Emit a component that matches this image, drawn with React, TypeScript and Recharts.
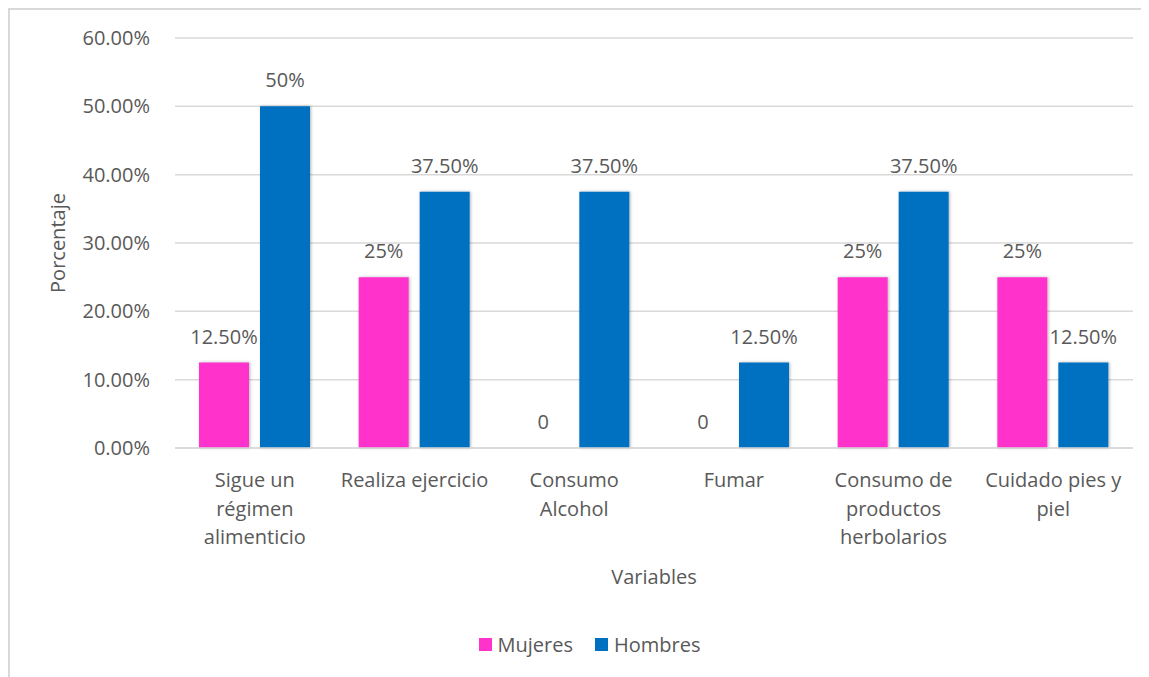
import { BarChart, Bar, XAxis, YAxis, CartesianGrid, Legend, LabelList, Label } from 'recharts';

const categories = [
  'Sigue un régimen alimenticio',
  'Realiza ejercicio',
  'Consumo Alcohol',
  'Fumar',
  'Consumo de productos herbolarios',
  'Cuidado pies y piel',
];
// how Excel wrapped each category name
const categoryLines = [
  ['Sigue un', 'régimen', 'alimenticio'],
  ['Realiza ejercicio'],
  ['Consumo', 'Alcohol'],
  ['Fumar'],
  ['Consumo de', 'productos', 'herbolarios'],
  ['Cuidado pies y', 'piel'],
];
const mujeres = [12.5, 25, 0, 0, 25, 25];
const hombres = [50, 37.5, 37.5, 12.5, 37.5, 12.5];
const mujeresLabels = ['12.50%', '25%', '0', '0', '25%', '25%'];
const hombresLabels = ['50%', '37.50%', '37.50%', '12.50%', '37.50%', '12.50%'];
const yTicks = [0, 10, 20, 30, 40, 50, 60];

const data = categories.map((name, i) => ({
  name,
  idx: i,
  Mujeres: mujeres[i],
  Hombres: hombres[i],
}));

const FONT = '"Open Sans", sans-serif';
const FS = 20;
const TEXT = '#595959';
const PINK = '#FF33CC';
const BLUE = '#0070C0';
const GAP = 11;

const CategoryTick = (props: any) => {
  const { x, y, payload } = props;
  const lines = categoryLines[payload.index] || [payload.value];
  return (
    <g transform={`translate(${x},${y})`}>
      {lines.map((line, i) => (
        <text
          key={i}
          x={0}
          y={i * 28.5}
          dy={31}
          textAnchor="middle"
          fill={TEXT}
          fontSize={FS}
          fontFamily={FONT}
        >
          {line}
        </text>
      ))}
    </g>
  );
};

const PercentTick = (props: any) => {
  const { x, y, payload } = props;
  return (
    <text
      x={x}
      y={y}
      dy={7}
      textAnchor="end"
      fill={TEXT}
      fontSize={FS}
      fontFamily={FONT}
    >
      {`${Number(payload.value).toFixed(2)}%`}
    </text>
  );
};

// labels for both series; zero-height Mujeres bars get no label of their own,
// so their position is worked out from the Hombres bar next to them
const PairLabels = (props: any) => {
  const { x, y, width, height, value } = props;
  const i = value as number;
  const base = y + height;
  const perUnit = height / hombres[i];
  const mx = x - GAP - width / 2;
  const my = base - mujeres[i] * perUnit;
  return (
    <g fill={TEXT} fontSize={FS} fontFamily={FONT} textAnchor="middle">
      <text x={x + width / 2} y={y - 19}>{hombresLabels[i]}</text>
      <text x={mx} y={my - 19}>{mujeresLabels[i]}</text>
    </g>
  );
};

const LegendContent = () => (
  <div
    style={{
      display: 'flex',
      justifyContent: 'center',
      alignItems: 'center',
      fontFamily: FONT,
      fontSize: FS,
      color: TEXT,
      paddingLeft: 6,
    }}
  >
    <span style={{ width: 13, height: 13, background: PINK, display: 'inline-block', marginRight: 6 }} />
    <span style={{ marginRight: 22 }}>Mujeres</span>
    <span style={{ width: 13, height: 13, background: BLUE, display: 'inline-block', marginRight: 6 }} />
    <span>Hombres</span>
  </div>
);

const App = () => {
  return (
    <div
      style={{
        width: 1141,
        height: 669,
        borderTop: '2px solid #d9d9d9',
        borderLeft: '2px solid #d9d9d9',
        boxSizing: 'border-box',
        background: '#fff',
      }}
    >
      <BarChart
        width={1139}
        height={667}
        data={data}
        margin={{ top: 28, right: 16, bottom: 8, left: 30 }}
        barSize={50}
        barGap={GAP}
      >
        <defs>
          <filter id="barShadow" x="-20%" y="-5%" width="140%" height="110%">
            <feDropShadow dx="1" dy="0" stdDeviation="1.5" floodColor="#000" floodOpacity="0.3" />
          </filter>
        </defs>
        <CartesianGrid vertical={false} stroke="#d9d9d9" strokeWidth={1.5} />
        <XAxis
          dataKey="name"
          tick={<CategoryTick />}
          tickLine={false}
          axisLine={{ stroke: '#d9d9d9', strokeWidth: 1.5 }}
          interval={0}
          height={183}
        >
          <Label
            value="Variables"
            position="insideTop"
            offset={122}
            fill={TEXT}
            fontSize={FS}
            fontFamily={FONT}
          />
        </XAxis>
        <YAxis
          domain={[0, 60]}
          ticks={yTicks}
          tick={<PercentTick />}
          tickLine={false}
          axisLine={false}
          tickMargin={19}
          width={135}
        >
          <Label
            value="Porcentaje"
            angle={-90}
            position="insideLeft"
            offset={18}
            fill={TEXT}
            fontSize={FS}
            fontFamily={FONT}
            style={{ textAnchor: 'middle' }}
          />
        </YAxis>
        <Legend verticalAlign="bottom" height={38} content={<LegendContent />} />
        <Bar dataKey="Mujeres" fill={PINK} filter="url(#barShadow)" isAnimationActive={false} />
        <Bar dataKey="Hombres" fill={BLUE} filter="url(#barShadow)" isAnimationActive={false}>
          <LabelList dataKey="idx" content={<PairLabels />} />
        </Bar>
      </BarChart>
    </div>
  );
};

export default App;
